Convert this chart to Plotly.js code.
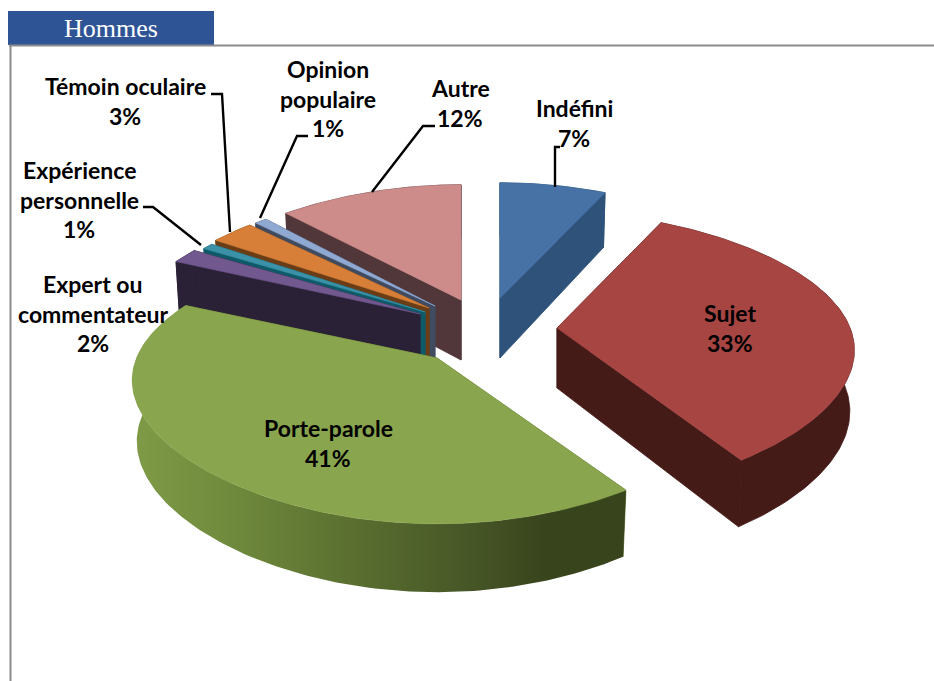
<!DOCTYPE html>
<html>
<head>
<meta charset="utf-8">
<script src="https://cdn.plot.ly/plotly-3.0.1.min.js"></script>
<style>html,body{margin:0;padding:0;background:#fff}#chart{width:934px;height:681px}</style>
</head>
<body>
<div id="chart"></div>
<script>
// ---- data (estimated unrounded shares; labels show the rounded percentage)
var categories = ["Indéfini","Sujet","Porte-parole","Expert ou commentateur","Expérience personnelle","Témoin oculaire","Opinion populaire","Autre"];
var values = [7.2,33.3,41.3,1.7,0.7,2.8,0.8,12.2];
var labelLines = [["Indéfini"],["Sujet"],["Porte-parole"],["Expert ou","commentateur"],["Expérience","personnelle"],["Témoin oculaire"],["Opinion","populaire"],["Autre"]];
var headerText = "Hommes";

// ---- styles
var topColors  = ["#4672a6","#a74543","#89a54e","#71588f","#3a91a8","#d77f38","#8fa9d3","#cd8b8a"];
var wallColors = ["#2f527a","#451b18","#5a6e2f","#2b2137","#0f5a68","#6a3d16","#414b60","#52373a"];
var apexX = [500,557,437,420,425,429,435,461];
var apexY = [298,328,358,314,312,308,306,300];
var radiusScale = [1,0.99,1.015,0.985,0.965,0.965,0.965,1];
var labelX = [574,730,328,93,79,125,328,460];
var labelY = [108,313,428,284,170,86,69,88];
var lineGap = 29.5;
var drawOrder = [7,6,5,4,3,2,0,1];
var leaders = [
  [[560,555,555],[147,147,187]],
  null, null, null,
  [[143,153,201],[207,207,245]],
  [[211,222,230],[94,94,232]],
  [[308,297,260],[136,136,218]],
  [[435,423,372],[126,126,192]]
];
// projection of the tilted disc
var RX = 296, RY = 136, PERSP = 0.18, SQUEEZE = 0.07, DEPTH = 60, BX = 0.985, BY = 1.05;

function proj(deg,scale){
  var a = deg*Math.PI/180, x = Math.sin(a), y = Math.cos(a), w = 1+PERSP*y;
  return [scale*RX*x*(1-SQUEEZE*y*y)/w, -RY*y/w];
}
function arcPts(a,b,scale){
  var pts=[], n=Math.max(2,Math.ceil(Math.abs(b-a)));
  for(var i=0;i<=n;i++) pts.push(proj(a+(b-a)*i/n,scale));
  return pts;
}
var total = values.reduce(function(s,v){return s+v;},0);
var starts=[], acc=0;
values.forEach(function(v){starts.push(acc/total*360); acc+=v;});

var traces=[];
function poly(xs,ys,color,name,extra,lw){
  var t={type:"scatter",mode:"lines",x:xs,y:ys,fill:"toself",fillcolor:color,
    line:{width:lw||0,color:color},hoverinfo:"skip",showlegend:false,name:name};
  if(extra) for(var k in extra) t[k]=extra[k];
  traces.push(t);
}
var greenGradient = {type:"horizontal",start:133,stop:620,colorscale:[
  [0,"#7f9b47"],[0.2,"#6f8a3c"],[0.45,"#5a6f30"],[0.7,"#465526"],[0.85,"#38441c"],[1,"#38441c"]]};

drawOrder.forEach(function(i){
  var a1=starts[i], a2=a1+values[i]/total*360, ax=apexX[i], ay=apexY[i], name=categories[i];
  var arc=arcPts(a1,a2,radiusScale[i]);
  var T=function(p){return [ax+p[0], ay+p[1]];};
  var B=function(p){return [ax+BX*p[0], ay+DEPTH+BY*p[1]];};
  var side=function(p){
    var t=T(p), b=B(p);
    poly([ax,t[0],b[0],ax,ax],[ay,t[1],b[1],ay+DEPTH,ay],wallColors[i],name,null,0.8);
  };
  side(arc[0]); side(arc[arc.length-1]);
  var wx=[],wy=[];
  arc.forEach(function(p){var t=T(p);wx.push(t[0]);wy.push(t[1]);});
  arc.slice().reverse().forEach(function(p){var b=B(p);wx.push(b[0]);wy.push(b[1]);});
  wx.push(wx[0]);wy.push(wy[0]);
  if(i===2) poly(wx,wy,wallColors[i],name,{fillgradient:greenGradient},0);
  else poly(wx,wy,wallColors[i],name,null,0.8);
  var tx=[ax],ty=[ay];
  arc.forEach(function(p){var t=T(p);tx.push(t[0]);ty.push(t[1]);});
  tx.push(ax);ty.push(ay);
  poly(tx,ty,topColors[i],name,null,0.6);
});
leaders.forEach(function(l){
  if(!l) return;
  traces.push({type:"scatter",mode:"lines",x:l[0],y:l[1],line:{color:"#000",width:2.4},hoverinfo:"skip",showlegend:false});
});

var annotations=[];
function txt(s,x,y,size,color,fam,bold){
  annotations.push({text:bold?"<b>"+s+"</b>":s,x:x,y:y,xref:"x",yref:"y",showarrow:false,xanchor:"center",yanchor:"middle",
    font:{family:fam,size:size,color:color}});
}
categories.forEach(function(c,i){
  var lines=labelLines[i].concat([Math.round(values[i]/total*100)+"%"]);
  lines.forEach(function(s,k){ txt(s,labelX[i],labelY[i]+k*lineGap,23,"#000","Lato, Carlito, sans-serif",true); });
});
txt(headerText,111,28,26,"#ffffff","'Liberation Serif', serif",false);

var layout={
  width:934,height:681,margin:{l:0,r:0,t:0,b:0},paper_bgcolor:"#fff",plot_bgcolor:"#fff",showlegend:false,
  xaxis:{range:[0,934],visible:false,fixedrange:true},
  yaxis:{range:[681,0],visible:false,fixedrange:true},
  annotations:annotations,
  shapes:[
    {type:"rect",xref:"x",yref:"y",x0:8,x1:214,y0:11,y1:45,fillcolor:"#2f5496",line:{width:0},layer:"below"},
    {type:"line",xref:"x",yref:"y",x0:9,x1:934,y0:45.5,y1:45.5,line:{color:"#8c8c8c",width:2},layer:"below"},
    {type:"line",xref:"x",yref:"y",x0:10.5,x1:10.5,y0:45,y1:681,line:{color:"#8c8c8c",width:2},layer:"below"}
  ]
};
Plotly.newPlot("chart",traces,layout,{displayModeBar:false,staticPlot:true});
</script>
</body>
</html>
